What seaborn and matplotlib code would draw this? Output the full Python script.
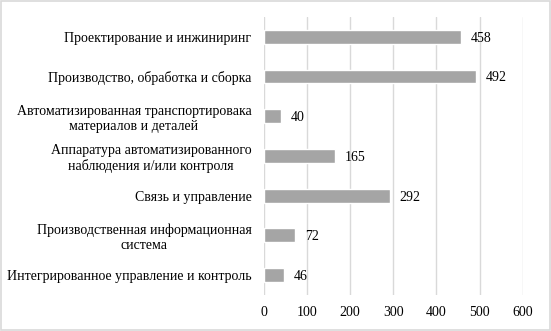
import matplotlib
matplotlib.use("Agg")
import matplotlib.pyplot as plt
import seaborn as sns
import pandas as pd

# Data
categories = [
    "Проектирование и инжиниринг",
    "Производство, обработка и сборка",
    "Автоматизированная транспортировака\nматериалов и деталей",
    "Аппаратура автоматизированного\nнаблюдения и/или контроля",
    "Связь и управление",
    "Производственная информационная\nсистема",
    "Интегрированное управление и контроль",
]
values = [458, 492, 40, 165, 292, 72, 46]
x_ticks = [0, 100, 200, 300, 400, 500, 600]

df = pd.DataFrame({"category": categories, "value": values})

sns.set_theme(style="white")
plt.rcParams["font.family"] = ["Liberation Serif", "DejaVu Serif"]

fig = plt.figure(figsize=(5.51, 3.31), dpi=100)
ax = fig.add_axes([0.479, 0.109, 0.4695, 0.84])

sns.barplot(data=df, y="category", x="value", color="#A5A5A5",
            saturation=1, width=0.35, orient="h", ax=ax)

ax.set_xlim(0, 600)
ax.set_xticks(x_ticks)
ax.xaxis.grid(True, color="#D9D9D9", linewidth=1)
ax.set_axisbelow(True)
for s in ax.spines.values():
    s.set_visible(False)
ax.set_xlabel("")
ax.set_ylabel("")
ax.tick_params(axis="y", length=0, pad=9, labelsize=10, colors="#000000")
ax.tick_params(axis="x", length=0, pad=8, labelsize=10, colors="#000000")
for lbl in ax.get_yticklabels():
    lbl.set_multialignment("center")

for i, v in enumerate(values):
    ax.annotate(str(v), xy=(v, i), xytext=(7, -1), textcoords="offset points",
                va="center", ha="left", fontsize=10, color="#000000")

# light frame around the figure
fig.patches.append(plt.Rectangle((0.002, 0.003), 0.996, 0.994, transform=fig.transFigure,
                                 fill=False, edgecolor="#D9D9D9", linewidth=1.2))

fig.savefig("out.png", dpi=100)
